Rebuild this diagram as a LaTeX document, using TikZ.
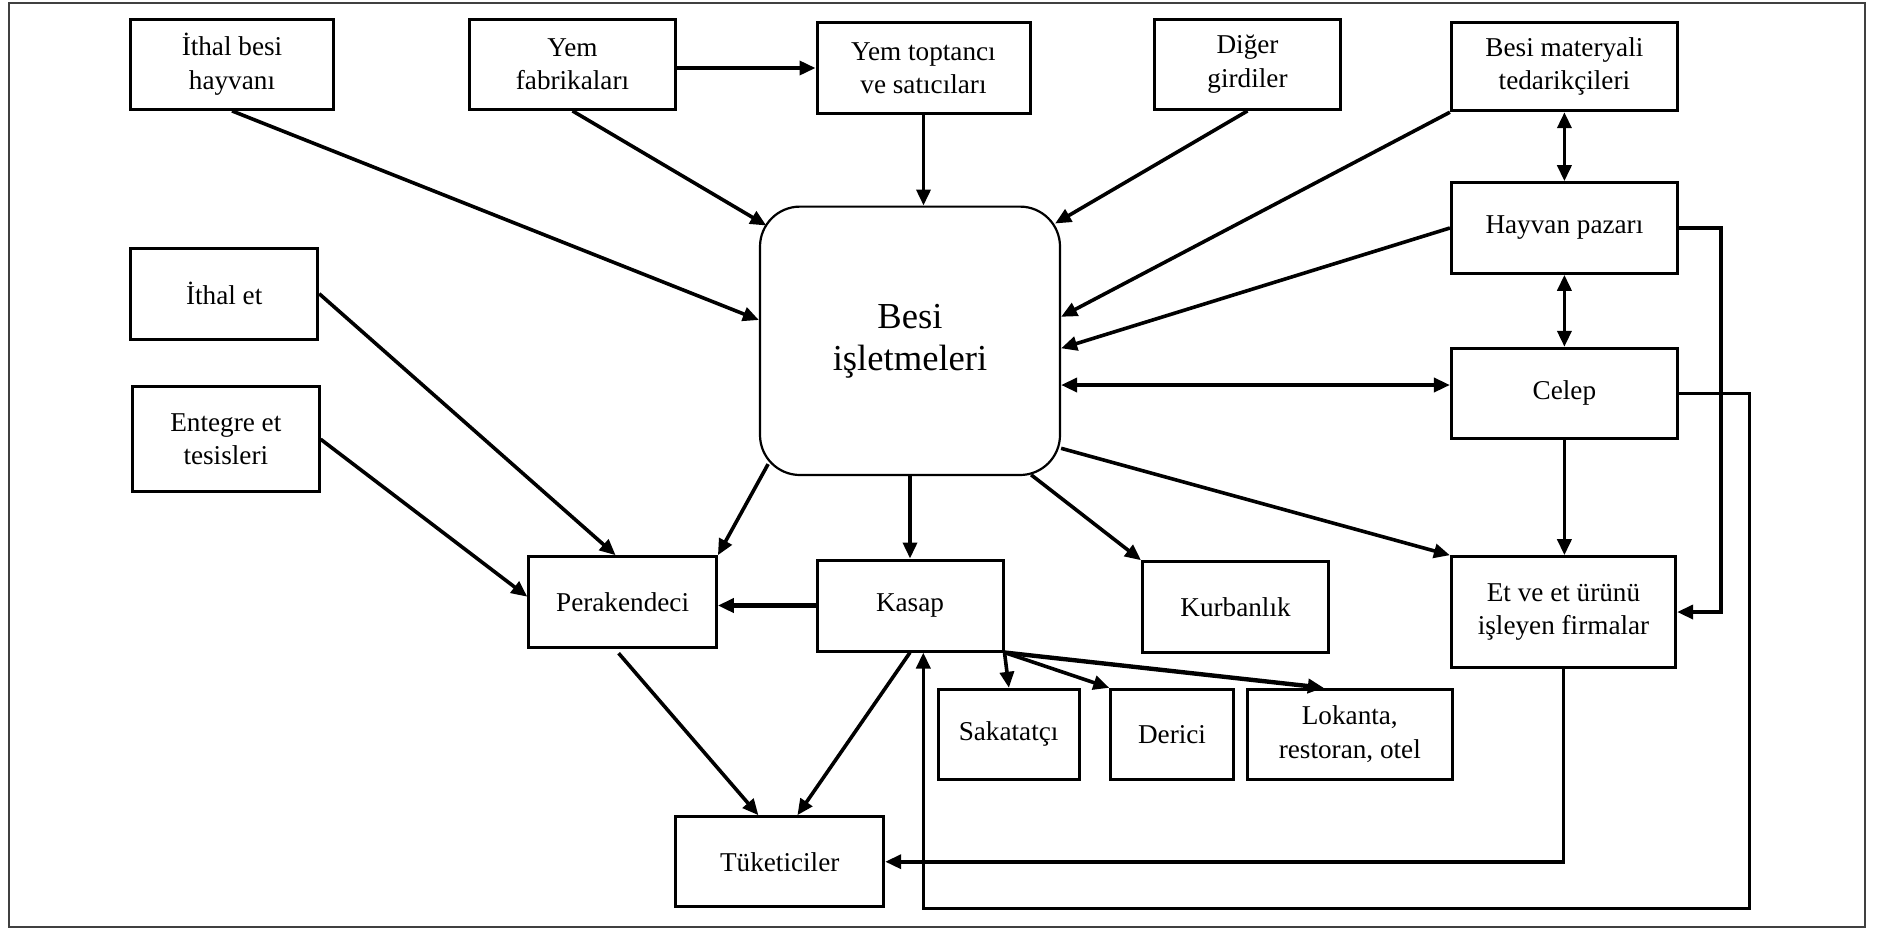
\documentclass[tikz,border=0pt]{standalone}
\usepackage{fontspec}
\setmainfont{Liberation Serif}
\usetikzlibrary{arrows.meta}
\begin{document}
\begin{tikzpicture}[x=0.5pt,y=-0.5pt,
  box/.style={draw, line width=1.5pt, align=center, inner sep=0pt,
    font=\fontsize{13.6}{16.7}\selectfont},
  hub/.style={draw, line width=1.1pt, rounded corners=20pt, align=center,
    inner sep=0pt, minimum width=150pt, minimum height=134.2pt,
    font=\fontsize{18.3}{21}\selectfont},
  flow/.style={line width=1.8pt, -{Triangle[length=8pt,width=7pt]}},
  twoway/.style={line width=1.8pt,
    {Triangle[length=8pt,width=7pt]}-{Triangle[length=8pt,width=7pt]}},
  frameline/.style={draw=black!75, line width=1pt}]

\useasboundingbox (0,0) rectangle (1883,928);
\draw[frameline] (9.3,2.7) rectangle (1865,926.7);

% suppliers along the top
\node[box, minimum width=101.3pt, minimum height=45.2pt] (ithalbesi) at (232,64.2) {İthal besi\\hayvanı};
\node[box, minimum width=103.2pt, minimum height=45.2pt] (yemfab) at (572.5,64.2) {Yem\\fabrikaları};
\node[box, minimum width=106.5pt, minimum height=45.3pt] (yemtop) at (923.5,68) {Yem toptancı\\ve satıcıları};
\node[box, minimum width=93pt, minimum height=45.2pt] (diger) at (1247.5,64.2) {Diğer\\girdiler};
\node[box, minimum width=113pt, minimum height=44pt] (besimat) at (1564.4,66.7) {Besi materyali\\tedarikçileri};

% right column
\node[box, minimum width=113pt, minimum height=45.3pt] (hayvan) at (1564.4,228) {Hayvan pazarı};
\node[box, minimum width=113pt, minimum height=45pt] (celep) at (1564.4,393.3) {Celep};
\node[box, minimum width=112.1pt, minimum height=55.3pt] (etve) at (1563.5,612) {Et ve et ürünü\\işleyen firmalar};

% left column
\node[box, minimum width=93.5pt, minimum height=45.3pt] (ithalet) at (224.2,293.7) {İthal et};
\node[box, minimum width=93.3pt, minimum height=52.5pt] (entegre) at (225.8,439.2) {Entegre et\\tesisleri};

% central farm node
\node[hub] (besi) at (910,340.8) {Besi\\işletmeleri};

% outlets
\node[box, minimum width=93.8pt, minimum height=45.5pt] (perak) at (622.6,602.2) {Perakendeci};
\node[box, minimum width=93pt, minimum height=45.5pt] (kasap) at (910,605.5) {Kasap};
\node[box, minimum width=93pt, minimum height=45.5pt] (kurban) at (1235.5,607.2) {Kurbanlık};
\node[box, minimum width=70.4pt, minimum height=45pt] (sakat) at (1008.6,734.3) {Sakatatçı};
\node[box, minimum width=61.2pt, minimum height=45pt] (derici) at (1172,734.3) {Derici};
\node[box, minimum width=102.8pt, minimum height=45pt] (lokanta) at (1349.8,734.3) {Lokanta,\\restoran, otel};
\node[box, minimum width=104pt, minimum height=45pt] (tuket) at (779.7,861.7) {Tüketiciler};

% inputs into the farms
\draw[flow] (ithalbesi.south) -- ([shift={(0,-20.8)}]besi.west);
\draw[flow] (yemfab.south) -- ([shift={(7.4,20)}]besi.north west);
\draw[flow] (yemfab.east |- yemtop.west) -- (yemtop.west);
\draw[flow] (yemtop.south) -- (yemtop.south |- besi.north);
\draw[flow] (diger.south) -- ([shift={(-6,18)}]besi.north east);
\draw[flow] (besimat.south west) -- ([shift={(0,-24)}]besi.east);
\draw[flow] (hayvan.west) -- ([shift={(0,7.5)}]besi.east);
\coordinate (cb) at ([shift={(0,-8.3)}]celep.west);
\draw[twoway] (besi.east |- cb) -- (cb);
\draw[twoway] (besimat.south) -- (hayvan.north);
\draw[twoway] (hayvan.south) -- (celep.north);

% outputs of the farms
\draw[flow] (celep.south) -- (celep.south |- etve.north);
\draw[flow] ([shift={(0,107.5)}]besi.east) -- (etve.north west);
\draw[flow] ([shift={(-30,-1.3)}]besi.south east) -- (kurban.north west);
\draw[flow] (besi.south) -- (kasap.north);
\draw[flow] ([shift={(9.2,-12)}]besi.south west) -- (perak.north east);

% meat supply to the retailer
\draw[flow] (ithalet.east) -- ([shift={(-7,0)}]perak.north);
\draw[flow] (entegre.east) -- ([shift={(0,-5.5)}]perak.west);
\draw[flow, line width=2.2pt] (kasap.west) -- (perak.east |- kasap.west);

% to the consumers
\draw[flow] ([shift={(-4,4)}]perak.south) -- ([shift={(-21.3,0)}]tuket.north);
\draw[flow] (kasap.south) -- ([shift={(17.7,0)}]tuket.north);

% by-products of the butcher
\draw[flow] (kasap.south east) -- ([shift={(0.3,0)}]sakat.north);
\draw[flow] (kasap.south east) -- (derici.north west);
\draw[flow, line width=2.2pt] (kasap.south east) -- ([shift={(-26,0)}]lokanta.north);

% outer return lines
\coordinate (hx) at ([shift={(42,0)}]hayvan.east);
\draw[flow] (hayvan.east) -- (hx) |- (etve.east);
\coordinate (cx) at ([shift={(70.6,0)}]celep.east);
\coordinate (cbot) at ([shift={(13.3,256)}]kasap.south);
\draw[flow] (celep.east) -- (cx) |- (cbot) -- ([shift={(13.3,0)}]kasap.south);
\draw[flow] (etve.south) |- (tuket.east);

\end{tikzpicture}
\end{document}
